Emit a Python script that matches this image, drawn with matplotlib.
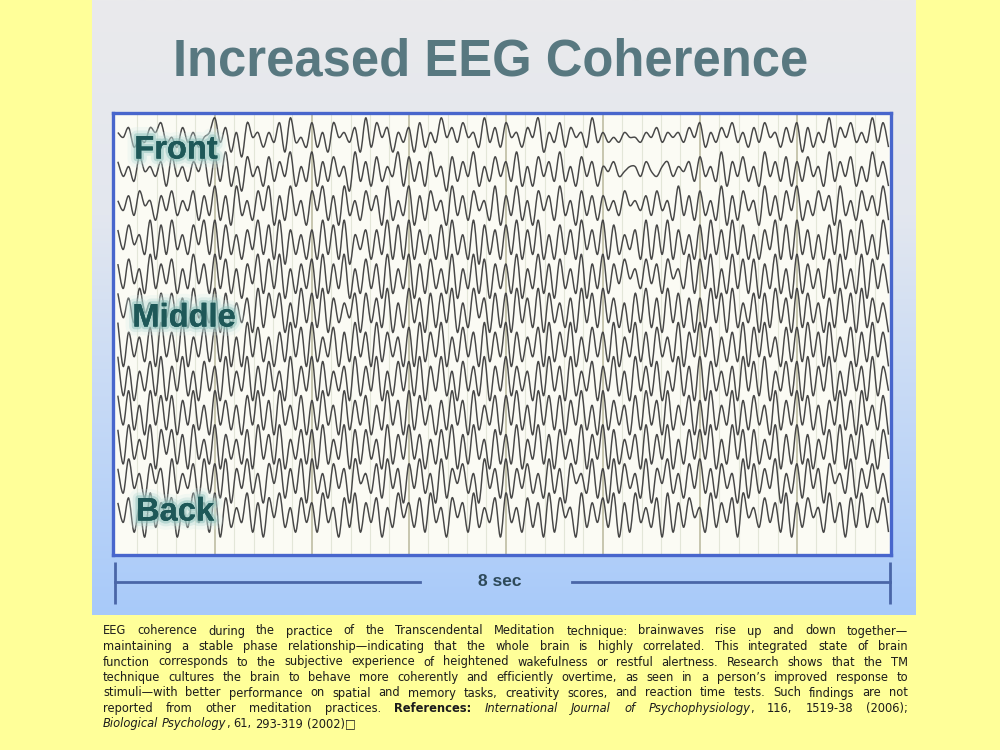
import numpy as np
import matplotlib
matplotlib.use("Agg")
import matplotlib.pyplot as plt
import matplotlib.patheffects as pe
from matplotlib.path import Path
from matplotlib.patches import PathPatch
from matplotlib import font_manager as fm

# ---------------- data ----------------
title = "Increased EEG Coherence"
region_labels = ["Front", "Middle", "Back"]
duration_sec = 8
scale_label = "8 sec"

# EEG channel traces (levels 0-9, 4.5 = baseline), one group of samples per second
ch01 = "657354768453746356 947261856364829453 836285647293857264 728364957485639473 856375926483756394 645465546574656475 836475846374856374 827364937584649483"
ch02 = "746385647284637582 839261846283749263 927384619372836492 837294618374926384 739262847393628472 657456647546746573 846392748362947382 738462937482639472"
ch03 = "647385627483648273 927193628491729361 849271936284719263 917284619372846291 739261847293618372 746385647384629372 836291728461937284 926384719362847392"
ch04 = "738462918293628492 918261739281907261 719281906371729181 917261819261908271 829172916182719372 918263719182917261 819271928161739181 927161829172926192"
ch05 = "728361927381629371 928160739182906172 809172906182709162 907182619062918072 719062917082619072 917384628371846291 829061928180729160 917260819261908271"
ch06 = "837294618382719362 908162709183806192 819072638082719061 927081829061937081 809271908261709281 927160829170928170 719280916280819270 918260719280917260"
ch07 = "907261809271906281 819060928160719280 916280719270917260 809172906182709172 907162809172906182 719062917082619072 928061719082926081 819270916280719270"
ch08 = "917062819072916082 709162907182609172 908162709172906182 819072916082719072 917260819270916280 729160927180629170 908261709281906281 809172906182709172"
ch09 = "829160928180729160 927160829170926180 719260917280619270 918260719270916280 829160928180729160 917260819270916280 709162907182609172 928160729170926180"
ch10 = "819262908381709261 907261809271906281 809162908182609172 927061829071926081 719062917082619072 908162709172906182 829061928081629071 917062819072916082"
ch11 = "729361847092638192 819073926084917290 926183709462819370 839260917482609371 917382619270846291 709283619074926183 927183609182739062 819370846291738260"
ch12 = "738160927480629371 908263917084926183 719360829173806294 728193608471926380 936182709184609273 829071936280917284 619273809462837190 728461937082926381"
channels = [ch01, ch02, ch03, ch04, ch05, ch06, ch07, ch08, ch09, ch10, ch11, ch12]

caption_lines = [
    [("EEG coherence during the practice of the Transcendental Meditation technique: brainwaves rise up and down together\u2014", "normal", "normal")],
    [("maintaining a stable phase relationship\u2014indicating that the whole brain is highly correlated. This integrated state of brain", "normal", "normal")],
    [("function corresponds to the subjective experience of heightened wakefulness or restful alertness. Research shows that the TM", "normal", "normal")],
    [("technique cultures the brain to behave more coherently and efficiently overtime, as seen in a person\u2019s improved response to", "normal", "normal")],
    [("stimuli\u2014with better performance on spatial and memory tasks, creativity scores, and reaction time tests. Such findings are not", "normal", "normal")],
    [("reported from other meditation practices.", "normal", "normal"), ("References:", "bold", "normal"),
     ("International Journal of Psychophysiology", "normal", "italic"), (", 116, 1519-38 (2006);", "normal", "normal")],
    [("Biological Psychology", "normal", "italic"), (", 61, 293-319 (2002)\u25a1", "normal", "normal")],
]

# ---------------- figure ----------------
W, H = 1000, 750
fig = plt.figure(figsize=(10, 7.5), dpi=100)
fig.patch.set_facecolor("#ffff99")

bg = fig.add_axes([0, 0, 1, 1])
bg.axis("off")

# gradient panel
stops = np.array([0.0, 0.35, 0.6, 1.0])
cols = np.array([[234, 234, 236], [227, 231, 239], [203, 220, 245], [168, 202, 250]]) / 255.0
yy = np.linspace(0, 1, 300)
grad = np.stack([np.interp(yy, stops, cols[:, k]) for k in range(3)], axis=-1)[:, None, :]
bg.imshow(grad, extent=[92, 916, 615, 0], aspect="auto", interpolation="bilinear", zorder=0)
bg.set_xlim(0, W)
bg.set_ylim(H, 0)

# title
bg.text(491, 62, title, ha="center", va="center", fontsize=36.5, fontweight="bold",
        family=["Liberation Sans", "DejaVu Sans"], color="#587880")

# scale bar
bar_col = "#4a66a8"
bg.plot([115, 115], [562, 604], color=bar_col, lw=2, solid_capstyle="butt")
bg.plot([890, 890], [562, 604], color=bar_col, lw=2, solid_capstyle="butt")
bg.plot([115, 420], [582, 582], color=bar_col, lw=2)
bg.plot([572, 890], [582, 582], color=bar_col, lw=2)
bg.text(500, 582, scale_label, ha="center", va="center", fontsize=12.5, fontweight="bold",
        family=["Liberation Sans", "DejaVu Sans"], color="#2e4a5a")

# ---------------- EEG panel ----------------
x0, x1, y0, y1 = 113, 891, 113, 555
ax = fig.add_axes([x0 / W, 1 - y1 / H, (x1 - x0) / W, (y1 - y0) / H])
ax.set_facecolor("#fbfbf4")
spacing = 7.0
n_ch = len(channels)
ax.set_xlim(-0.05, 7.97)
ax.set_ylim(-spacing * (n_ch - 1) - 8.2, 5.5)
for tm in np.arange(0.2, 8.0, 0.2):
    major = abs(tm - round(tm)) < 1e-6
    ax.axvline(tm, color="#b9b89c" if major else "#e3e6d8", lw=1.1 if major else 0.8, zorder=1)


def smooth_path(x, y):
    """Smooth (Catmull-Rom styled) line drawn through every sample."""
    p = np.column_stack([x, y])
    pe_ = np.vstack([p[0], p, p[-1]])
    verts = [p[0]]
    codes = [Path.MOVETO]
    for k in range(len(p) - 1):
        a, b, c, d = pe_[k], pe_[k + 1], pe_[k + 2], pe_[k + 3]
        verts += [b + (c - a) / 6.0, c - (d - b) / 6.0, c]
        codes += [Path.CURVE4] * 3
    return Path(np.array(verts), codes)


for i, s in enumerate(channels):
    vals = np.array([int(c) for c in s.replace(" ", "")], dtype=float)
    t = np.arange(len(vals)) * duration_sec / len(vals)
    ax.add_patch(PathPatch(smooth_path(t, vals - 4.5 - spacing * i), fill=False,
                           edgecolor="#474747", lw=1.05, zorder=2))

ax.set_xticks([])
ax.set_yticks([])
for sp in ax.spines.values():
    sp.set_color("#4866cc")
    sp.set_linewidth(2.4)

# region labels (overlay)
top = fig.add_axes([0, 0, 1, 1])
top.set_xlim(0, W)
top.set_ylim(H, 0)
top.axis("off")
top.patch.set_alpha(0)
for lab, (lx, ly) in zip(region_labels, [(176, 150), (184, 318), (175, 512)]):
    top.text(lx, ly, lab, ha="center", va="center", fontsize=23.5, fontweight="bold",
             family=["Liberation Sans", "DejaVu Sans"], color="#1e5858",
             path_effects=[pe.withStroke(linewidth=13, foreground="#d6ecea", alpha=0.25),
                           pe.withStroke(linewidth=8, foreground="#b6dad6", alpha=0.35),
                           pe.withStroke(linewidth=4, foreground="#8fc2bc", alpha=0.5),
                           pe.Normal()])

# ---------------- caption (justified) ----------------
def pick_caption_font():
    entries = fm.fontManager.ttflist
    if any(f.name == "Liberation Sans Narrow" for f in entries):
        return ["Liberation Sans Narrow", "DejaVu Sans"], "normal"
    for fam in ["DejaVu Sans", "Noto Sans", "Open Sans", "Roboto", "Liberation Sans"]:
        if any(f.name == fam and f.stretch in ("condensed", "semi-condensed") for f in entries):
            return [fam, "DejaVu Sans"], "condensed"
    return ["Roboto", "DejaVu Sans"], "normal"


cap_family, cap_stretch = pick_caption_font()
renderer = fig.canvas.get_renderer()
cap_size = 9.2
left, right = 103, 908
line_y0, line_dy = 631, 15.5


def make(word, weight, style, y):
    return bg.text(0, y, word, ha="left", va="center", fontsize=cap_size, fontweight=weight,
                   fontstyle=style, family=cap_family, fontstretch=cap_stretch, color="#1c1c1c")


def width(t):
    return t.get_window_extent(renderer).width


probe1 = make("a a", "normal", "normal", -100)
probe2 = make("aa", "normal", "normal", -100)
space_w = width(probe1) - width(probe2)
probe1.remove()
probe2.remove()

for li, segs in enumerate(caption_lines):
    y = line_y0 + li * line_dy
    items = []
    for text, weight, style in segs:
        words = text.split(" ")
        for wi, wd in enumerate(words):
            if wd == "":
                continue
            glue = (wi == 0 and bool(items) and text[0] in ",;.")
            items.append((make(wd, weight, style, y), glue))
    widths = [width(t) for t, _ in items]
    n_gaps = sum(1 for k, (_, g) in enumerate(items) if k > 0 and not g)
    last = li == len(caption_lines) - 1
    gap = space_w if (last or n_gaps == 0) else (right - left - sum(widths)) / n_gaps
    x = left
    for k, ((t, g), w) in enumerate(zip(items, widths)):
        if k > 0 and not g:
            x += gap
        t.set_x(x)
        x += w

fig.savefig("out.png", dpi=100, facecolor=fig.get_facecolor())
